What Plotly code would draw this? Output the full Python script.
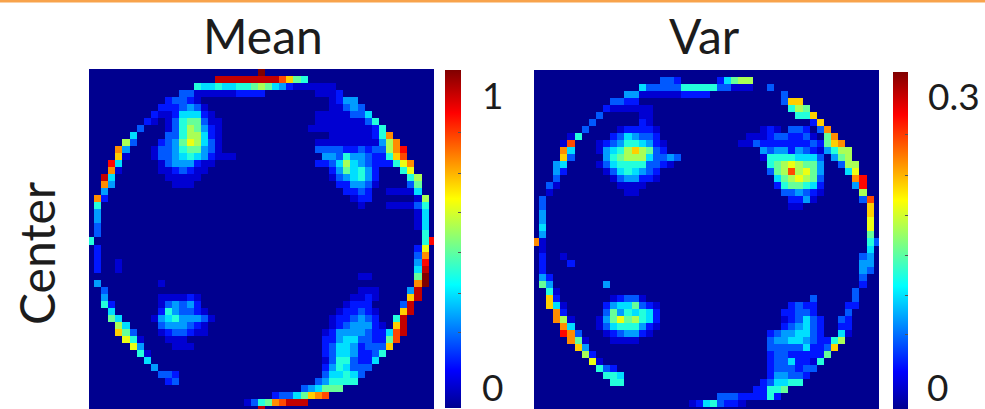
import numpy as np
import plotly.graph_objects as go

# Cell levels, 0-15 on the jet scale: {row: {column: level}}
mean_haze = {
    2: {29: 1, 30: 1, 31: 1},
    3: {31: 1, 32: 1, 33: 1, 34: 2},
    4: {33: 1},
    5: {33: 1, 34: 1},
    6: {31: 1, 32: 1, 33: 1, 34: 1, 35: 1},
    7: {10: 1, 17: 1, 31: 1, 32: 1, 33: 1, 34: 1, 35: 1, 36: 1, 37: 1},
    8: {10: 1, 17: 1, 34: 1, 35: 1, 36: 1, 37: 1, 38: 1},
    13: {9: 1, 15: 1, 16: 1},
    14: {9: 1, 15: 1},
    15: {10: 1, 14: 1},
    16: {11: 1, 12: 1, 13: 1},
    17: {41: 1, 42: 1, 43: 1, 44: 1},
    19: {41: 1, 42: 1, 43: 1, 44: 1},
    29: {37: 1, 38: 1},
    31: {37: 1, 38: 1, 39: 1},
    32: {9: 1, 14: 1, 36: 1, 37: 1, 39: 1},
    33: {35: 1},
    37: {9: 1, 15: 1},
    39: {11: 1, 12: 1, 13: 1},
}
mean_upper_left = {
    0: {23: 15},
    1: {17: 14, 18: 14, 19: 14, 20: 14, 21: 14, 22: 14, 23: 14},
    2: {14: 6, 15: 5, 16: 5, 17: 6, 18: 5, 19: 5, 20: 6, 21: 6, 22: 7, 23: 8},
    3: {12: 3, 13: 3, 14: 1, 15: 1, 16: 1, 17: 1, 18: 1, 19: 1, 20: 2, 21: 2, 22: 2, 23: 2},
    4: {10: 2, 11: 3, 12: 3, 13: 2, 14: 1},
    5: {9: 2, 10: 2, 11: 2, 12: 3, 13: 4, 14: 3, 15: 1},
    6: {8: 2, 9: 1, 10: 1, 11: 2, 12: 5, 13: 5, 14: 5, 15: 2, 16: 1},
    7: {7: 2, 8: 1, 11: 3, 12: 6, 13: 7, 14: 7, 15: 3, 16: 1},
    8: {6: 3, 11: 3, 12: 6, 13: 8, 14: 7, 15: 4, 16: 2},
    9: {5: 5, 10: 3, 11: 3, 12: 6, 13: 8, 14: 8, 15: 5, 16: 2, 17: 1},
    10: {4: 8, 5: 3, 9: 2, 10: 3, 11: 4, 12: 7, 13: 9, 14: 8, 15: 5, 16: 3, 17: 1},
    11: {3: 11, 4: 4, 8: 1, 9: 3, 10: 3, 11: 4, 12: 6, 13: 7, 14: 7, 15: 4, 16: 3, 17: 1},
    12: {3: 10, 4: 1, 8: 1, 9: 3, 10: 3, 11: 4, 12: 5, 13: 6, 14: 5, 15: 4, 16: 2, 17: 1, 18: 1, 19: 1},
    13: {2: 13, 3: 5, 10: 3, 11: 4, 12: 4, 13: 4, 14: 2},
    14: {2: 11, 3: 1, 10: 1, 11: 2, 12: 3, 13: 2, 14: 1},
    15: {1: 14, 2: 5, 11: 1, 12: 1, 13: 1},
    16: {1: 11, 2: 4},
    17: {1: 4},
    18: {0: 11, 1: 2},
    19: {0: 6},
    20: {0: 4},
    21: {0: 4},
    22: {0: 3},
    23: {0: 3},
}
mean_upper_right = {
    1: {24: 14, 25: 14, 26: 12, 27: 10, 28: 7, 29: 6},
    2: {24: 7, 25: 5, 26: 4, 27: 2, 28: 1, 32: 1, 33: 1},
    4: {34: 2, 35: 4, 36: 4},
    5: {35: 3, 36: 4, 37: 3},
    6: {36: 3, 37: 3, 38: 5},
    7: {38: 3, 39: 6},
    8: {30: 1, 31: 1, 32: 1, 33: 1, 39: 2, 40: 6},
    9: {33: 1, 34: 1, 35: 1, 36: 1, 37: 1, 38: 1, 39: 2, 40: 6, 41: 11},
    10: {31: 1, 32: 1, 33: 1, 34: 1, 35: 1, 36: 1, 37: 1, 38: 1, 39: 1, 40: 4, 41: 8, 42: 11},
    11: {31: 3, 32: 3, 33: 3, 34: 3, 35: 2, 36: 2, 37: 3, 38: 2, 39: 3, 40: 3, 41: 8, 42: 11, 43: 13},
    12: {32: 4, 33: 4, 34: 3, 35: 6, 36: 4, 37: 4, 38: 3, 39: 2, 40: 2, 41: 6, 42: 10, 43: 12},
    13: {31: 2, 32: 2, 33: 3, 34: 5, 35: 8, 36: 5, 37: 4, 38: 3, 39: 2, 40: 2, 41: 2, 42: 6, 43: 9, 44: 11},
    14: {33: 2, 34: 4, 35: 7, 36: 5, 37: 6, 38: 4, 39: 2, 43: 6, 44: 9},
    15: {33: 1, 34: 3, 35: 4, 36: 5, 37: 6, 38: 4, 39: 2, 44: 6, 45: 8},
    16: {34: 2, 35: 2, 36: 4, 37: 4, 38: 3, 39: 1, 44: 3, 45: 7},
    17: {35: 2, 36: 2, 37: 3, 38: 2, 45: 5},
    18: {36: 1, 37: 2, 38: 2, 45: 1, 46: 8},
    19: {37: 1, 45: 3, 46: 6},
    20: {45: 1, 46: 5},
    21: {45: 1, 46: 5},
    22: {45: 1, 46: 5},
    23: {46: 6},
}
mean_lower_left = {
    24: {-1: 6},
    25: {0: 2},
    26: {0: 2},
    27: {0: 2, 3: 1},
    28: {0: 2, 3: 1},
    30: {0: 4, 9: 1},
    31: {1: 3},
    32: {1: 4, 10: 1, 11: 1, 12: 1, 13: 2},
    33: {1: 6, 2: 2, 9: 1, 10: 3, 11: 4, 12: 3, 13: 4, 14: 2},
    34: {2: 5, 9: 2, 10: 6, 11: 4, 12: 3, 13: 3, 14: 2, 15: 1},
    35: {2: 7, 3: 5, 8: 1, 9: 4, 10: 5, 11: 6, 12: 4, 13: 4, 14: 4, 15: 3, 16: 1},
    36: {3: 8, 4: 5, 9: 3, 10: 4, 11: 4, 12: 4, 13: 3, 14: 2, 15: 1},
    37: {3: 10, 4: 7, 5: 3, 10: 2, 11: 3, 12: 3, 13: 2, 14: 1},
    38: {4: 9, 5: 6, 6: 1, 10: 1, 11: 1, 12: 1},
    39: {5: 9, 6: 4},
    40: {6: 6, 7: 1},
    41: {7: 5},
    42: {8: 4},
    43: {9: 3, 10: 3, 11: 2},
    44: {10: 2, 11: 3},
    47: {21: 1, 22: 3, 23: 6},
    48: {23: 14},
}
mean_lower_right = {
    24: {46: 6, 47: 13},
    25: {45: 2, 46: 9},
    26: {45: 3, 46: 11},
    27: {45: 4, 46: 13},
    28: {45: 5, 46: 14},
    29: {45: 7, 46: 15},
    30: {45: 11, 46: 15},
    31: {44: 4, 45: 14},
    32: {38: 2, 44: 10, 45: 14},
    33: {36: 2, 37: 2, 38: 2, 43: 3, 44: 14},
    34: {34: 1, 35: 2, 36: 2, 37: 3, 38: 2, 39: 1, 43: 10, 44: 14},
    35: {33: 1, 34: 2, 35: 2, 36: 3, 37: 4, 38: 3, 39: 2, 42: 6, 43: 14},
    36: {33: 1, 34: 2, 35: 3, 36: 4, 37: 4, 38: 4, 39: 2, 40: 1, 42: 10, 43: 14},
    37: {32: 1, 33: 2, 34: 4, 35: 4, 36: 4, 37: 4, 38: 3, 39: 2, 40: 2, 41: 5, 42: 12, 43: 14},
    38: {32: 2, 33: 2, 34: 4, 35: 5, 36: 5, 37: 3, 38: 3, 39: 2, 40: 2, 41: 7, 42: 12},
    39: {32: 2, 33: 3, 34: 5, 35: 5, 36: 4, 37: 2, 38: 3, 39: 3, 40: 3, 41: 10},
    40: {32: 2, 33: 3, 34: 5, 35: 5, 36: 4, 37: 2, 38: 2, 39: 3, 40: 6},
    41: {32: 1, 33: 3, 34: 6, 35: 6, 36: 3, 37: 2, 38: 2, 39: 5},
    42: {32: 2, 33: 4, 34: 6, 35: 5, 36: 3, 37: 3, 38: 3},
    43: {32: 3, 33: 5, 34: 5, 35: 6, 36: 5, 37: 3},
    44: {31: 3, 32: 4, 33: 6, 34: 6, 35: 6, 36: 6},
    45: {29: 3, 30: 4, 31: 5, 32: 7, 33: 7, 34: 7},
    46: {25: 2, 26: 3, 27: 3, 28: 5, 29: 7, 30: 10, 31: 11, 32: 12},
    47: {24: 7, 25: 11, 26: 12, 27: 14, 28: 14, 29: 14},
}

var_haze = {
    5: {14: 1, 15: 1},
    6: {15: 1},
    10: {8: 1, 17: 1},
    13: {8: 1, 18: 1},
    15: {10: 1, 16: 1},
    16: {11: 1, 14: 1},
    17: {12: 1, 13: 1, 35: 1, 39: 1},
    18: {38: 1},
    32: {10: 1, 14: 1},
    37: {9: 1, 15: 1},
    38: {10: 1, 13: 1},
}
var_upper_left = {
    1: {17: 3, 18: 3, 19: 2},
    2: {14: 5, 15: 3, 16: 3, 17: 3, 18: 3, 19: 3, 20: 6, 21: 6, 22: 6, 23: 6},
    3: {12: 4, 13: 4, 14: 1, 15: 1, 16: 1, 17: 1, 18: 1, 19: 1, 20: 2, 21: 2, 22: 2, 23: 2},
    4: {10: 3, 11: 3, 12: 2, 13: 2},
    5: {9: 2, 10: 1, 11: 1, 12: 1, 13: 1},
    6: {8: 3, 14: 1},
    7: {7: 3, 14: 2, 15: 1},
    8: {6: 3, 11: 1, 12: 2, 13: 2, 14: 2, 15: 2, 16: 1},
    9: {4: 1, 5: 6, 10: 2, 11: 3, 12: 5, 13: 4, 14: 3, 15: 3, 16: 2},
    10: {3: 1, 4: 12, 9: 2, 10: 3, 11: 4, 12: 6, 13: 6, 14: 5, 15: 4, 16: 2},
    11: {3: 11, 4: 5, 8: 1, 9: 4, 10: 5, 11: 6, 12: 8, 13: 10, 14: 8, 15: 7, 16: 3, 17: 2},
    12: {3: 10, 4: 3, 9: 4, 10: 6, 11: 7, 12: 8, 13: 8, 14: 8, 15: 5, 16: 3, 17: 3, 18: 4, 19: 3},
    13: {2: 4, 3: 5, 9: 3, 10: 5, 11: 6, 12: 6, 13: 6, 14: 6, 15: 3, 16: 3, 17: 2},
    14: {2: 4, 3: 2, 9: 1, 10: 3, 11: 5, 12: 6, 13: 5, 14: 4, 15: 3, 16: 2},
    15: {2: 3, 11: 3, 12: 4, 13: 4, 14: 2, 15: 2},
    16: {1: 3, 2: 1, 12: 1, 13: 1},
    17: {1: 1},
    18: {0: 3},
    19: {0: 3},
    20: {0: 4},
    21: {0: 4},
    22: {0: 5},
    23: {0: 4},
}
var_upper_right = {
    1: {25: 2, 26: 5, 27: 7, 28: 8, 29: 8},
    2: {24: 6, 25: 3, 26: 3, 27: 1, 28: 1, 29: 1, 32: 3},
    3: {34: 3},
    4: {34: 3, 35: 10, 36: 10},
    5: {35: 6, 36: 8, 37: 7},
    6: {36: 6, 37: 6, 38: 10},
    7: {38: 2, 39: 10},
    8: {31: 1, 32: 2, 33: 1, 35: 3, 36: 3, 37: 2, 39: 3, 40: 11},
    9: {29: 1, 30: 1, 31: 1, 32: 2, 33: 3, 34: 3, 35: 2, 36: 2, 37: 3, 38: 1, 40: 7, 41: 11},
    10: {28: 1, 29: 1, 30: 3, 31: 2, 32: 2, 33: 2, 34: 2, 35: 2, 36: 2, 37: 2, 38: 3, 39: 2, 40: 7, 41: 10, 42: 11},
    11: {31: 4, 32: 3, 33: 4, 34: 4, 35: 2, 36: 4, 37: 3, 38: 2, 39: 1, 40: 4, 41: 6, 42: 8, 43: 8},
    12: {31: 1, 32: 6, 33: 6, 34: 6, 35: 6, 36: 5, 37: 5, 38: 5, 39: 3, 41: 4, 42: 7, 43: 8},
    13: {32: 6, 33: 7, 34: 8, 35: 9, 36: 8, 37: 7, 38: 7, 39: 4, 42: 3, 43: 8, 44: 8},
    14: {32: 3, 33: 7, 34: 8, 35: 12, 36: 8, 37: 9, 38: 7, 39: 4, 43: 5, 44: 9},
    15: {33: 5, 34: 7, 35: 8, 36: 9, 37: 8, 38: 7, 39: 3, 44: 11, 45: 13},
    16: {33: 2, 34: 6, 35: 7, 36: 7, 37: 6, 38: 5, 39: 2, 44: 4, 45: 13},
    17: {34: 3, 35: 3, 36: 4, 37: 3, 38: 2, 45: 8},
    18: {35: 2, 36: 2, 37: 4, 45: 3, 46: 12},
    19: {35: 1, 36: 1, 46: 10},
    20: {46: 10},
    21: {46: 9},
    22: {46: 9},
    23: {46: 7},
}
var_lower_left = {
    24: {-1: 11, 0: 1},
    25: {0: 1},
    26: {0: 2, 3: 1},
    27: {0: 2, 4: 2},
    28: {0: 2},
    29: {0: 4, 1: 2},
    30: {0: 7, 1: 4, 9: 4},
    31: {1: 6, 2: 1},
    32: {1: 10, 2: 2, 11: 2, 12: 3, 13: 3},
    33: {1: 10, 2: 5, 3: 1, 9: 2, 10: 4, 11: 5, 12: 5, 13: 7, 14: 3, 15: 2, 16: 1},
    34: {2: 11, 3: 2, 9: 3, 10: 7, 11: 4, 12: 6, 13: 5, 14: 6, 15: 5, 16: 2},
    35: {2: 11, 3: 8, 4: 1, 8: 1, 9: 4, 10: 7, 11: 9, 12: 7, 13: 8, 14: 6, 15: 5, 16: 2},
    36: {3: 11, 4: 5, 8: 1, 9: 3, 10: 5, 11: 6, 12: 6, 13: 6, 14: 4, 15: 2, 16: 1},
    37: {3: 13, 4: 11, 5: 3, 10: 2, 11: 3, 12: 4, 13: 4, 14: 2},
    38: {4: 11, 5: 7, 6: 1, 11: 1, 12: 1},
    39: {5: 10, 6: 4},
    40: {6: 8, 7: 2},
    41: {7: 9, 8: 1},
    42: {8: 6, 9: 3, 10: 2},
    43: {9: 6, 10: 6, 11: 5},
    44: {10: 6, 11: 6},
    47: {21: 1, 22: 2, 23: 5},
}
var_lower_right = {
    24: {46: 6, 47: 3},
    25: {46: 5},
    26: {45: 3, 46: 4},
    27: {45: 4, 46: 4},
    28: {45: 4, 46: 3},
    29: {45: 3},
    30: {45: 2},
    31: {44: 3},
    32: {38: 3, 44: 3},
    33: {35: 2, 36: 3, 37: 2, 38: 2, 43: 2, 44: 2},
    34: {34: 2, 35: 2, 36: 3, 37: 3, 38: 2, 43: 3},
    35: {34: 1, 35: 2, 36: 3, 37: 5, 38: 3, 39: 2, 42: 3, 43: 2},
    36: {34: 2, 35: 3, 36: 4, 37: 5, 38: 3, 39: 2, 42: 2, 43: 2},
    37: {32: 2, 33: 3, 34: 4, 35: 4, 36: 5, 37: 5, 38: 3, 39: 2, 42: 5, 43: 1},
    38: {32: 3, 33: 4, 34: 4, 35: 5, 36: 5, 37: 4, 38: 3, 39: 2, 40: 2, 41: 6, 42: 8},
    39: {32: 3, 33: 3, 34: 3, 35: 3, 36: 3, 37: 5, 38: 2, 39: 2, 40: 3, 41: 10},
    40: {32: 2, 33: 3, 34: 3, 35: 2, 36: 2, 37: 2, 38: 2, 39: 2, 40: 7},
    41: {32: 2, 33: 3, 34: 3, 35: 5, 36: 2, 37: 2, 38: 1, 39: 6},
    42: {32: 2, 33: 3, 34: 3, 35: 3, 36: 2, 37: 3, 38: 3},
    43: {32: 2, 33: 4, 34: 4, 35: 3, 36: 3, 37: 2},
    44: {31: 2, 32: 3, 33: 5, 34: 5, 35: 6, 36: 6},
    45: {30: 2, 31: 2, 32: 6, 33: 6, 34: 7},
    46: {25: 3, 26: 3, 27: 3, 28: 2, 29: 2, 30: 2, 31: 2, 32: 6, 33: 2},
    47: {24: 6, 25: 3, 26: 2, 27: 2, 28: 1},
}

mean_colorbar_ticks = [0.222, 0.34, 0.459, 0.577, 0.695, 0.814]
var_colorbar_ticks = [0.066, 0.101, 0.137, 0.172, 0.208, 0.244]
column_titles = ["Mean", "Var"]
row_title = "Center"
mean_tick_labels = ["1", "0"]
var_tick_labels = ["0.3", "0"]

W, H = 985, 409
N = 49
JET = [[0, "#00008f"], [0.111, "#0000ff"], [0.365, "#00ffff"], [0.619, "#ffff00"],
       [0.873, "#ff0000"], [1, "#800000"]]
FONT = "Lato"
INK = "#1c1c1c"


def grid(parts, top):
    z = np.zeros((N, N))
    for part in parts:
        for row, cells in part.items():
            for col, level in cells.items():
                z[row, col + 1] = level / 15 * top
    return z


def px(x):
    return x / W


def py(y):
    return 1 - y / H


fig = go.Figure()
fig.add_trace(go.Heatmap(
    z=grid([mean_haze, mean_upper_left, mean_upper_right, mean_lower_left, mean_lower_right], 1.0),
    zmin=0, zmax=1, colorscale=JET, xaxis="x", yaxis="y", hoverinfo="skip",
    colorbar=dict(x=px(445), xanchor="left", xpad=0, ypad=0, thickness=16, thicknessmode="pixels",
                  len=338, lenmode="pixels", y=py(408), yanchor="bottom", outlinewidth=0,
                  tickmode="array", tickvals=mean_colorbar_ticks, ticks="inside", ticklen=3,
                  tickcolor="#555555", tickwidth=1, showticklabels=False)))
fig.add_trace(go.Heatmap(
    z=grid([var_haze, var_upper_left, var_upper_right, var_lower_left, var_lower_right], 0.3),
    zmin=0, zmax=0.3, colorscale=JET, xaxis="x2", yaxis="y2", hoverinfo="skip",
    colorbar=dict(x=px(893), xanchor="left", xpad=0, ypad=0, thickness=15, thicknessmode="pixels",
                  len=337, lenmode="pixels", y=py(409), yanchor="bottom", outlinewidth=0,
                  tickmode="array", tickvals=var_colorbar_ticks, ticks="inside", ticklen=3,
                  tickcolor="#555555", tickwidth=1, showticklabels=False)))

hidden = dict(showticklabels=False, ticks="", showgrid=False, zeroline=False, showline=False)
fig.update_layout(
    width=W, height=H, margin=dict(l=0, r=0, t=0, b=0), paper_bgcolor="white", plot_bgcolor="white",
    xaxis=dict(domain=[px(89), px(434)], range=[-0.2, 48.2], **hidden),
    yaxis=dict(domain=[0, py(69)], range=[47.93, -0.5], **hidden),
    xaxis2=dict(domain=[px(534), px(879)], range=[-0.2, 48.2], anchor="y2", **hidden),
    yaxis2=dict(domain=[0, py(70)], range=[47.8, -0.5], anchor="x2", **hidden),
    shapes=[dict(type="rect", xref="paper", yref="paper", x0=0, x1=1, y0=py(2.5), y1=1,
                 fillcolor="#f8a34c", line_width=0)],
)


def label(text, x, y, size, angle=0):
    fig.add_annotation(text=text, x=px(x), y=py(y), xref="paper", yref="paper", showarrow=False,
                       xanchor="center", yanchor="middle", textangle=angle,
                       font=dict(family=FONT, size=size, color=INK))


label(column_titles[0], 263, 36, 48)
label(column_titles[1], 704, 36, 48)
label(row_title, 36, 253, 48, -90)
label(mean_tick_labels[0], 492, 94, 37)
label(mean_tick_labels[1], 492, 386, 37)
label(var_tick_labels[0], 954, 95, 37)
label(var_tick_labels[1], 937, 386, 37)

fig.write_html("out.html", config={"displayModeBar": False},
               post_script="document.body.style.margin='0';document.body.style.overflow='hidden';")
